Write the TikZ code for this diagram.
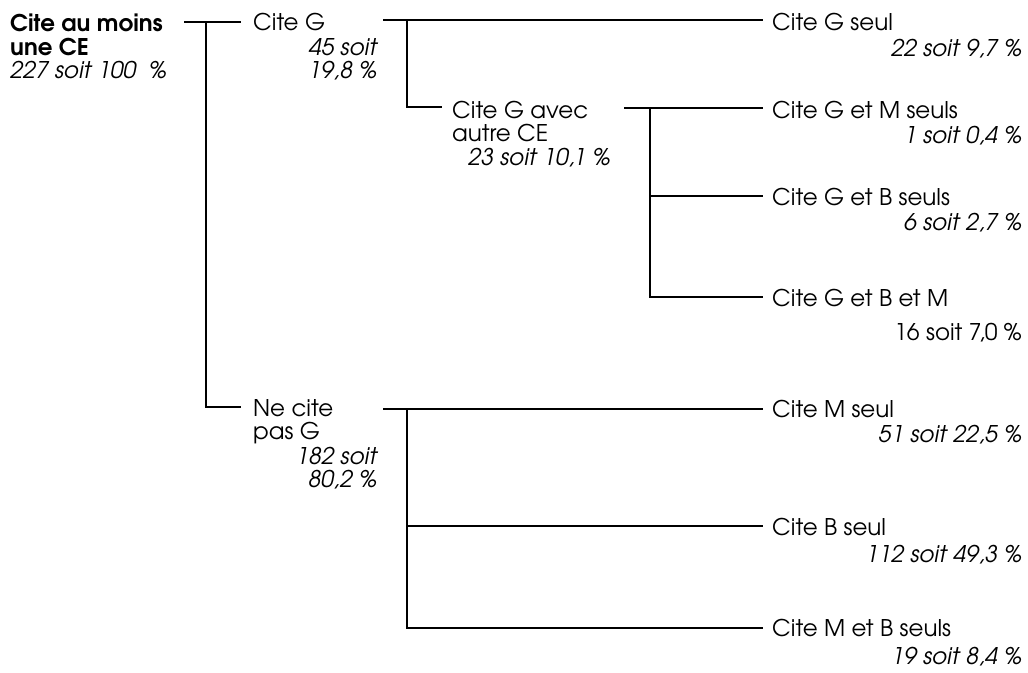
\documentclass[tikz,border=0pt]{standalone}
\usepackage{fontspec}
\setmainfont{texgyreadventor}[Extension=.otf,UprightFont=*-regular,BoldFont=*-bold,ItalicFont=*-italic,BoldItalicFont=*-bolditalic]
\newcommand{\fsz}{\fontsize{23}{24}\selectfont}
\tikzset{
  lbl/.style={inner sep=0pt, anchor=base west, font=\fsz},
  lbb/.style={inner sep=0pt, anchor=base west, font=\fsz\bfseries},
  lbi/.style={inner sep=0pt, anchor=base west, font=\fsz\itshape},
  num/.style={inner sep=0pt, anchor=base east, font=\fsz\itshape},
  numup/.style={inner sep=0pt, anchor=base east, font=\fsz},
  conn/.style={line width=1.9pt, line join=miter, black}
}
\begin{document}
\begin{tikzpicture}[x=1pt,y=-1pt]
\useasboundingbox[fill=white] (0,0) rectangle (1028,672);
% root
\node[lbb] (r1) at (10,31.5) {Cite au moins};
\node[lbb] (r2) at (10,55.5) {une CE};
\node[lbi] (r3) at (10,78.5) {227 soit 100~~\%};
% Cite G
\node[lbl] (g1) at (253,30.5) {Cite G};
\node[num] (g2) at (377,55.5) {45 soit};
\node[num] (g3) at (377,78.5) {19,8 \%};
% Cite G seul
\node[lbl] (gs1) at (772,30.5) {Cite G seul};
\node[num] (gs2) at (1022,56.5) {22 soit 9,7 \%};
% Cite G avec
\node[lbl] (ga1) at (452,118.5) {Cite G avec};
\node[lbl] (ga2) at (452,141.5) {autre CE};
\node[lbi] (ga3) at (468,165.5) {23 soit 10,1 \%};
% leaves of G avec
\node[lbl] (gm1) at (772,118.5) {Cite G et M seuls};
\node[num] (gm2) at (1022,143.5) {1 soit 0,4 \%};
\node[lbl] (gb1) at (772,205.5) {Cite G et B seuls};
\node[num] (gb2) at (1022,230.5) {6 soit 2,7 \%};
\node[lbl] (gbm1) at (772,306.5) {Cite G et B et M};
\node[numup] (gbm2) at (1022,340.5) {16 soit 7,0 \%};
% Ne cite pas G
\node[lbl] (n1) at (253,416.5) {Ne cite};
\node[lbl] (n2) at (253,439.5) {pas G};
\node[num] (n3) at (377,464.5) {182 soit};
\node[num] (n4) at (377,487.5) {80,2 \%};
% leaves of Ne cite pas G
\node[lbl] (ms1) at (772,417.5) {Cite M seul};
\node[num] (ms2) at (1022,442.5) {51 soit 22,5 \%};
\node[lbl] (bs1) at (772,535.5) {Cite B seul};
\node[num] (bs2) at (1022,562.5) {112 soit 49,3 \%};
\node[lbl] (mb1) at (772,636.5) {Cite M et B seuls};
\node[num] (mb2) at (1022,664.5) {19 soit 8,4 \%};
% connector points
\coordinate (a0) at (184,22);
\coordinate (aj) at (206,22);
\coordinate (a1) at (241,22);
\coordinate (ab) at (206,407);
\coordinate (ae) at (241,407);
\coordinate (b0) at (383,20);
\coordinate (bj) at (407,20);
\coordinate (b1) at (763,20);
\coordinate (bb) at (407,107);
\coordinate (be) at (442,107);
\coordinate (c0) at (624,108);
\coordinate (cj) at (650,108);
\coordinate (c1) at (763,108);
\coordinate (cm) at (650,196);
\coordinate (cme) at (763,196);
\coordinate (cb) at (650,297);
\coordinate (cbe) at (763,297);
\coordinate (d0) at (383,409);
\coordinate (dj) at (407,409);
\coordinate (d1) at (763,409);
\coordinate (dm) at (407,526);
\coordinate (dme) at (763,526);
\coordinate (db) at (407,628);
\coordinate (dbe) at (763,628);
% connectors
\draw[conn] (a0) -- (a1);
\draw[conn] (aj) -- (ab) -- (ae);
\draw[conn] (b0) -- (b1);
\draw[conn] (bj) -- (bb) -- (be);
\draw[conn] (c0) -- (c1);
\draw[conn] (cj) -- (cb) -- (cbe);
\draw[conn] (cm) -- (cme);
\draw[conn] (d0) -- (d1);
\draw[conn] (dj) -- (db) -- (dbe);
\draw[conn] (dm) -- (dme);
\end{tikzpicture}
\end{document}
